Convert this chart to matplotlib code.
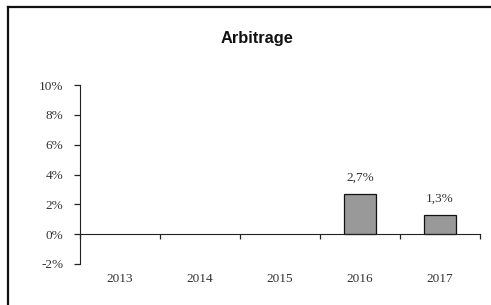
import matplotlib
matplotlib.use("Agg")
import matplotlib.pyplot as plt
from matplotlib.lines import Line2D
from matplotlib.ticker import FixedLocator, FuncFormatter

# --- data ---
years = ["2013", "2014", "2015", "2016", "2017"]
values = [0.0, 0.0, 0.0, 2.7, 1.3]          # percent
bar_labels = ["", "", "", "2,7%", "1,3%"]
y_ticks = [-2, 0, 2, 4, 6, 8, 10]

fig = plt.figure(figsize=(4.91, 3.05), dpi=100)
fig.patch.set_facecolor("white")

# outer frame (top + left visible, the rest is cut off in the source)
fx, fy = 7.5 / 491, 1 - 6.5 / 305
fig.add_artist(Line2D([fx, 1.0], [fy, fy], transform=fig.transFigure, color="#111111", lw=1.6))
fig.add_artist(Line2D([fx, fx], [0.0, fy], transform=fig.transFigure, color="#111111", lw=1.6))

ax = fig.add_axes([80 / 491, 1 - 264 / 305, 400 / 491, 179 / 305])
ax.set_facecolor("white")

x = list(range(len(years)))
edges = ["#111111" if v else "none" for v in values]
bars = ax.bar(x, values, width=0.41, color="#999999", edgecolor=edges, linewidth=0.9, zorder=3)
for b, lab in zip(bars, bar_labels):
    if lab:
        ax.annotate(lab, (b.get_x() + b.get_width() / 2, b.get_height()),
                    xytext=(0, 7), textcoords="offset points", ha="center", va="bottom",
                    fontsize=9.5, family="Liberation Serif", color="#333333")

ax.set_xlim(-0.5, len(years) - 0.5)
ax.set_ylim(-2, 10)

for s in ["top", "right"]:
    ax.spines[s].set_visible(False)
ax.spines["bottom"].set_position(("data", 0))
ax.spines["bottom"].set_color("#222222")
ax.spines["left"].set_color("#222222")
ax.spines["bottom"].set_zorder(4)

ax.yaxis.set_major_locator(FixedLocator(y_ticks))
ax.yaxis.set_major_formatter(FuncFormatter(lambda v, p: f"{v:.0f}%"))
ax.tick_params(axis="y", direction="out", length=4, width=0.9, color="#222222",
               pad=8, labelsize=9.5, labelcolor="#333333")

# category labels at centres, tick marks at the category boundaries
ax.set_xticks(x)
ax.set_xticklabels(years)
ax.set_xticks([i - 0.5 for i in range(len(years) + 1)], minor=True)
ax.tick_params(axis="x", which="major", length=0, pad=28, labelsize=9.5, labelcolor="#333333")
ax.tick_params(axis="x", which="minor", direction="out", length=3.5, width=0.9, color="#222222")

for lab in ax.get_xticklabels() + ax.get_yticklabels():
    lab.set_family("Liberation Serif")

fig.text(257 / 491, 1 - 39 / 305, "Arbitrage", ha="center", va="center",
         fontsize=11.8, fontweight="bold", family="Liberation Sans", color="#111111")

fig.savefig("out.png", dpi=100, facecolor="white")
